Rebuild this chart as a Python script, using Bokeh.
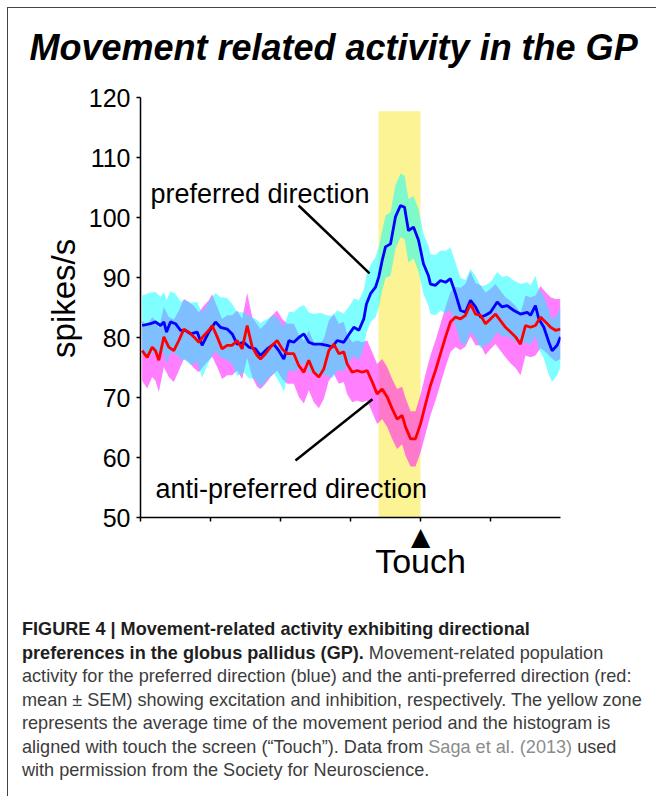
import numpy as np
from bokeh.plotting import figure
from bokeh.models import Range1d, Label, FixedTicker, Div, LinearAxis
from bokeh.layouts import column
from bokeh.embed import file_html
from bokeh.resources import INLINE

# ---------------- data (time in ms relative to touch, spikes/s) ----------------
t_blue = [-1988, -1929, -1893, -1857, -1833, -1814, -1786, -1750, -1714, -1679,
          -1643, -1595, -1560, -1512, -1464, -1429, -1381, -1345, -1310, -1262,
          -1226, -1179, -1143, -1095, -1048, -1012, -976, -940, -905, -869,
          -833, -798, -762, -714, -667, -631, -595, -548, -500, -476,
          -440, -405, -386, -357, -321, -298, -274, -250, -214, -179,
          -143, -114, -86, -50, -14, 21, 57, 71, 107, 143,
          179, 214, 250, 286, 321, 357, 393, 429, 464, 500,
          548, 583, 619, 667, 714, 762, 786, 821, 845, 881,
          917, 940, 976, 1000]
blue_mean = [82.0, 82.3, 82.6, 82.0, 82.6, 80.9, 82.6, 82.3, 81.2, 81.2,
             80.6, 80.9, 78.7, 80.9, 82.6, 81.7, 81.4, 80.6, 78.9, 79.2,
             78.4, 78.1, 77.0, 78.1, 78.9, 77.8, 76.4, 79.5, 79.2, 80.0,
             80.6, 79.2, 78.9, 78.9, 78.7, 78.4, 79.5, 79.2, 80.9, 81.7,
             81.2, 83.1, 85.6, 87.3, 88.4, 90.1, 92.8, 95.1, 95.6, 100.1,
             102.0, 101.7, 97.8, 98.4, 96.2, 92.3, 90.3, 88.9, 88.7, 89.5,
             89.2, 89.8, 87.3, 84.5, 84.2, 86.2, 85.1, 83.4, 83.7, 84.2,
             85.9, 85.1, 85.3, 84.5, 83.9, 84.2, 83.7, 85.3, 83.1, 81.7,
             79.2, 77.8, 78.7, 80.1]
blue_sem = [5.0, 5.2, 5.0, 4.8, 5.0, 5.3, 5.1, 5.0, 4.8, 5.0,
            5.2, 5.0, 5.4, 5.0, 4.8, 5.0, 5.2, 5.0, 5.3, 5.0,
            5.2, 5.0, 5.4, 5.0, 4.8, 5.1, 5.4, 4.8, 5.0, 5.0,
            4.8, 5.0, 5.0, 5.2, 5.0, 5.2, 5.0, 4.8, 4.6, 4.8,
            5.0, 4.8, 4.8, 4.8, 5.0, 5.0, 5.0, 5.2, 5.3, 5.3,
            5.3, 5.3, 5.3, 5.2, 5.2, 5.0, 5.0, 5.0, 5.0, 5.0,
            5.2, 5.2, 5.2, 5.4, 5.4, 5.2, 5.2, 5.2, 5.0, 5.0,
            5.0, 5.0, 5.0, 5.0, 5.0, 5.0, 5.0, 5.0, 5.0, 5.2,
            5.4, 5.2, 5.0, 5.0]

t_red = [-1988, -1952, -1917, -1893, -1869, -1833, -1798, -1762, -1726, -1690,
         -1655, -1619, -1583, -1548, -1512, -1488, -1452, -1417, -1381, -1345,
         -1310, -1274, -1238, -1202, -1167, -1143, -1107, -1071, -1024, -988,
         -952, -905, -869, -833, -798, -762, -726, -690, -655, -619,
         -583, -548, -524, -488, -452, -417, -381, -345, -310, -274,
         -238, -202, -167, -131, -107, -71, -36, 0, 36, 71,
         107, 143, 179, 214, 250, 286, 321, 357, 393, 429,
         464, 500, 536, 571, 607, 643, 679, 714, 750, 786,
         821, 857, 893, 929, 964, 1000]
red_mean = [77.8, 76.7, 78.4, 77.8, 76.2, 80.1, 78.4, 77.8, 79.5, 81.4,
            80.9, 80.1, 79.2, 80.3, 81.2, 82.0, 80.1, 78.1, 78.7, 78.7,
            79.5, 78.1, 82.0, 78.4, 77.0, 76.4, 77.3, 78.4, 79.5, 78.1,
            77.3, 77.3, 75.3, 74.2, 76.2, 74.2, 73.4, 74.8, 77.8, 78.9,
            77.3, 77.6, 75.6, 74.2, 74.5, 74.2, 74.5, 72.6, 70.6, 71.4,
            70.1, 68.1, 66.4, 67.0, 65.1, 63.1, 63.1, 65.6, 68.9, 72.0,
            74.5, 77.3, 80.1, 82.6, 83.4, 83.1, 83.7, 85.6, 83.9, 83.7,
            82.3, 83.1, 83.9, 82.8, 81.7, 80.9, 80.1, 78.9, 82.0, 81.7,
            82.0, 83.4, 82.6, 81.7, 81.2, 81.4]
red_sem = [5.0, 5.2, 5.0, 5.0, 5.3, 5.0, 5.0, 5.2, 5.0, 5.0,
           5.0, 5.2, 5.0, 5.0, 5.0, 5.2, 5.0, 5.0, 5.0, 5.0,
           5.0, 5.0, 5.4, 5.0, 5.2, 5.0, 5.0, 5.0, 5.0, 5.0,
           5.0, 5.0, 5.2, 5.2, 5.0, 5.0, 5.2, 5.0, 5.0, 5.0,
           5.0, 5.0, 5.0, 5.0, 5.0, 5.0, 5.0, 5.0, 5.0, 5.0,
           5.0, 5.0, 5.0, 4.8, 4.8, 4.6, 4.6, 4.8, 5.0, 5.0,
           5.0, 5.0, 5.0, 5.0, 5.0, 5.2, 5.2, 5.4, 5.2, 5.0,
           5.2, 5.0, 5.0, 5.0, 5.0, 5.2, 5.2, 5.2, 5.0, 5.0,
           5.0, 5.2, 5.0, 5.0, 5.2, 5.0]

move_start, move_end, move_top = -300, 0, 117.7
touch_t = 0
title_t = -621
y_ticks = [50, 60, 70, 80, 90, 100, 110, 120]
x_ticks = [-2000, -1500, -1000, -500, 0, 500]

# ---------------- figure ----------------
FONT = "Liberation Sans"
p = figure(width=648, height=600, output_backend="svg", toolbar_location=None,
           x_range=Range1d(-2000, 1000), y_range=Range1d(50, 120),
           min_border_left=132, min_border_right=96, min_border_top=89,
           min_border_bottom=91)
p.outline_line_color = None
p.grid.visible = False
p.background_fill_color = "white"
p.border_fill_color = "white"

p.yaxis.ticker = FixedTicker(ticks=y_ticks)
p.xaxis.ticker = FixedTicker(ticks=x_ticks)
for ax in (p.xaxis, p.yaxis):
    ax.axis_line_color = "black"
    ax.axis_line_width = 1.5
    ax.major_tick_line_color = "black"
    ax.major_tick_line_width = 1.5
    ax.major_tick_in = 0
    ax.major_tick_out = 4
    ax.minor_tick_line_color = None
p.yaxis.major_label_text_font = FONT
p.yaxis.major_label_text_font_size = "25px"
p.yaxis.major_label_text_color = "black"
p.yaxis.major_label_standoff = 6
# two leading no-break spaces nudge the centred label up, as in the original
p.yaxis.axis_label = "\u00a0\u00a0spikes/s"
p.yaxis.axis_label_text_font = FONT
p.yaxis.axis_label_text_font_size = "33px"
p.yaxis.axis_label_text_font_style = "normal"
p.yaxis.axis_label_text_color = "black"
p.yaxis.axis_label_standoff = 4
p.xaxis.major_label_text_color = None
p.xaxis.major_label_text_font_size = "1px"
p.xaxis.major_label_standoff = 0


def text_axis(tick, text, size, font, standoff, style="normal"):
    return LinearAxis(ticker=FixedTicker(ticks=[tick]),
                      major_label_overrides={tick: text},
                      axis_line_color=None, major_tick_line_color=None,
                      minor_tick_line_color=None, major_tick_out=0, major_tick_in=0,
                      major_label_standoff=standoff,
                      major_label_text_font=font,
                      major_label_text_font_style=style,
                      major_label_text_font_size=size,
                      major_label_text_color="black")


# chart title (above), touch marker and label (below)
p.add_layout(text_axis(title_t, "Movement related activity in the GP", "36px", FONT, 30,
                       "bold italic"), "above")
p.add_layout(text_axis(touch_t, "\u25B2", "25px", "DejaVu Sans", 0), "below")
p.add_layout(text_axis(touch_t, "Touch", "34px", FONT, -12), "below")

# movement period
p.quad(left=[move_start], right=[move_end], bottom=[50], top=[move_top],
       fill_color="#fcf395", line_color=None)

tb = np.array(t_blue); bm = np.array(blue_mean); bs = np.array(blue_sem)
tr = np.array(t_red); rm = np.array(red_mean); rs = np.array(red_sem)

p.varea(x=tr, y1=rm - rs, y2=rm + rs, fill_color="#ff00ff", fill_alpha=0.5)
p.varea(x=tb, y1=bm - bs, y2=bm + bs, fill_color="#00ffff", fill_alpha=0.5)

# annotation pointers
p.segment(x0=[-871, -893], y0=[102.0, 59.5], x1=[-364, -343], y1=[90.7, 69.7],
          line_color="black", line_width=2.5)

p.line(tb, bm, line_color="#0000ff", line_width=2.8)
p.line(tr, rm, line_color="#ff0000", line_width=2.8)

p.add_layout(Label(x=-1929, y=104.0, text="preferred direction", text_font=FONT,
                   text_font_size="27px", text_color="black",
                   text_baseline="alphabetic"))
p.add_layout(Label(x=-1893, y=54.83, text="anti-preferred direction", text_font=FONT,
                   text_font_size="27px", text_color="black",
                   text_baseline="alphabetic"))

caption_html = (
    '<div style="font-family:\'Liberation Sans\',Arial,sans-serif;font-size:18.1px;'
    'line-height:23.5px;color:#3c3c3c;white-space:nowrap;padding:5px 0 0 9px;">'
    '<b style="color:#1e1e1e;">FIGURE 4 | Movement-related activity exhibiting directional</b><br>'
    '<b style="color:#1e1e1e;">preferences in the globus pallidus (GP).</b> Movement-related population<br>'
    'activity for the preferred direction (blue) and the anti-preferred direction (red:<br>'
    'mean &plusmn; SEM) showing excitation and inhibition, respectively. The yellow zone<br>'
    'represents the average time of the movement period and the histogram is<br>'
    'aligned with touch the screen (&ldquo;Touch&rdquo;). Data from '
    '<span style="color:#8c8c8c;">Saga et al. (2013)</span> used<br>'
    'with permission from the Society for Neuroscience.'
    '</div>'
)
cap = Div(text=caption_html, width=648, height=180)

layout = column(p, cap, styles={"margin-top": "7px", "margin-left": "7px",
                                "border-top": "1px solid #444",
                                "border-left": "1px solid #444"})

open("out.html", "w").write(file_html(layout, INLINE))
